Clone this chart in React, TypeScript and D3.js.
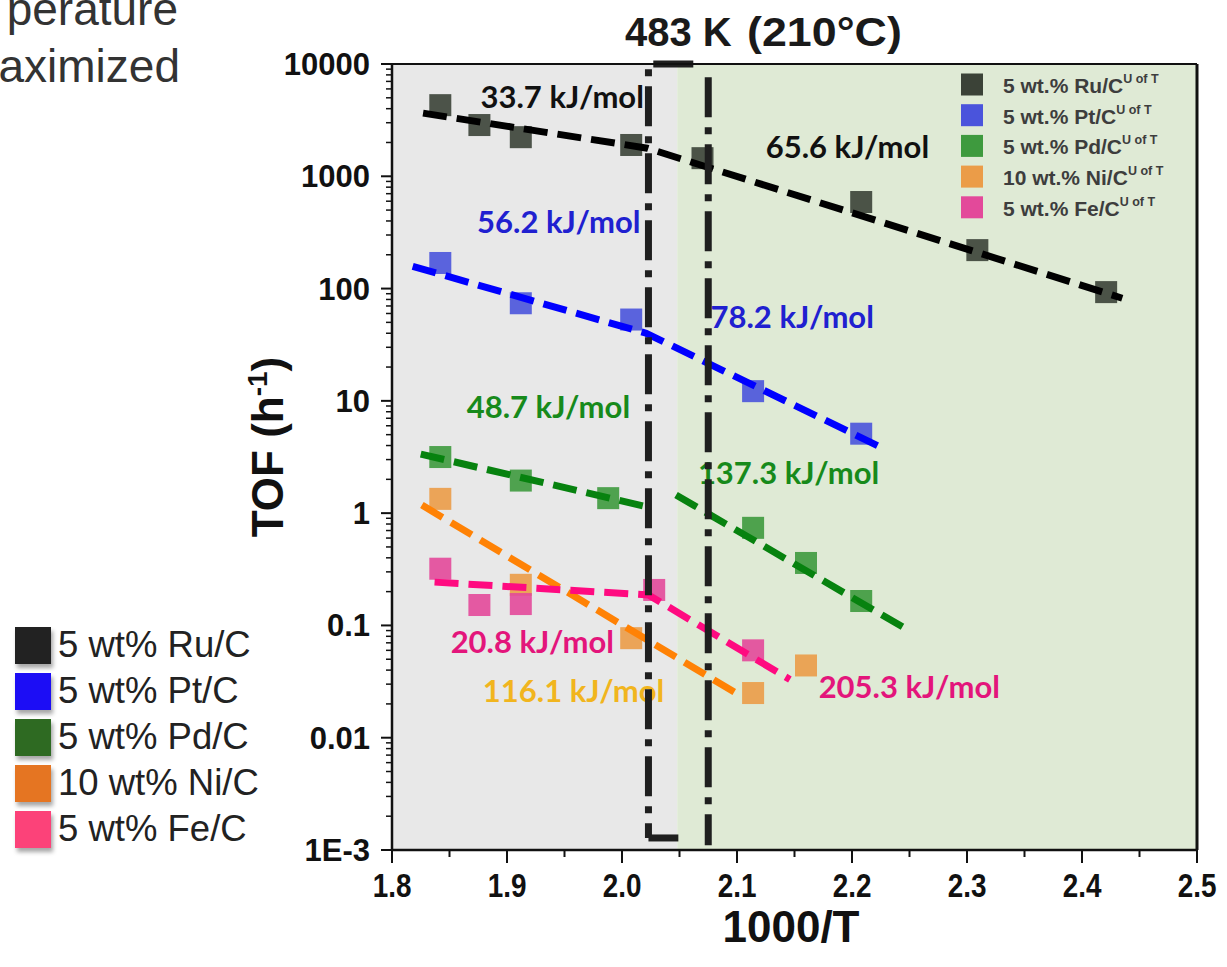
import React from 'react';
import * as d3 from 'd3';

// ---------- data ----------
const xTickValues = [1.8, 1.9, 2.0, 2.1, 2.2, 2.3, 2.4, 2.5];
const xTickLabels = ['1.8', '1.9', '2.0', '2.1', '2.2', '2.3', '2.4', '2.5'];
const yTickValues = [1e-3, 1e-2, 0.1, 1, 10, 100, 1000, 10000];
const yTickLabels = ['1E-3', '0.01', '0.1', '1', '10', '100', '1000', '10000'];

const seriesNames = ['5 wt.% Ru/C', '5 wt.% Pt/C', '5 wt.% Pd/C', '10 wt.% Ni/C', '5 wt.% Fe/C'];
const outerLegendNames = ['5 wt% Ru/C', '5 wt% Pt/C', '5 wt% Pd/C', '10 wt% Ni/C', '5 wt% Fe/C'];

const ruX = [1.842, 1.876, 1.912, 2.008, 2.070, 2.208, 2.309, 2.421];
const ruY = [4300, 2860, 2230, 1900, 1450, 590, 220, 93];
const ptX = [1.842, 1.912, 2.008, 2.114, 2.208];
const ptY = [169, 74, 53, 12.2, 5.1];
const pdX = [1.842, 1.912, 1.988, 2.114, 2.160, 2.208];
const pdY = [3.16, 1.95, 1.36, 0.74, 0.36, 0.165];
const niX = [1.842, 1.912, 2.008, 2.114, 2.160];
const niY = [1.34, 0.23, 0.077, 0.025, 0.044];
const feX = [1.842, 1.876, 1.912, 2.028, 2.114];
const feY = [0.32, 0.152, 0.155, 0.207, 0.060];

// Arrhenius fit lines (each is a list of segments; each segment is x-list & y-list)
const ruFitX = [[1.827, 2.022, 2.435]];
const ruFitY = [[3650, 1780, 82]];
const ptFitX = [[1.818, 2.021, 2.223]];
const ptFitY = [[158, 40, 3.96]];
const pdFitX = [[1.825, 2.023], [2.047, 2.244]];
const pdFitY = [[3.36, 1.13], [1.45, 0.097]];
const niFitX = [[1.826, 2.102]];
const niFitY = [[1.18, 0.024]];
const feFitX = [[1.837, 2.023, 2.146]];
const feFitY = [[0.243, 0.187, 0.033]];

const eaTexts = ['33.7 kJ/mol', '65.6 kJ/mol', '56.2 kJ/mol', '78.2 kJ/mol', '48.7 kJ/mol', '137.3 kJ/mol', '20.8 kJ/mol', '116.1 kJ/mol', '205.3 kJ/mol'];
const eaX = [1.877, 2.125, 1.874, 2.077, 1.865, 2.066, 1.851, 1.879, 2.171];
const eaY = [4050, 1450, 312, 44.5, 7.03, 1.82, 0.0568, 0.0208, 0.0226];

// regions
const greyRegion = [1.8, 2.048];
const greenRegion = [2.048, 2.5];
const boxX = [2.023, 2.075];

// ---------- styles ----------
const ARIAL = 'Liberation Sans, Arial, Helvetica, sans-serif';
const LATO = 'Lato, Carlito, Calibri, sans-serif';
const markerColors = ['#3b4237', '#4a54dc', '#3e9a3e', '#eb9c48', '#e3499a'];
const lineColors = ['#000000', '#0000ff', '#07820f', '#ff8205', '#ff0a80'];
const eaColors = ['#111111', '#111111', '#2020d0', '#2020d0', '#178a1b', '#178a1b', '#e3157b', '#f1b51e', '#e3157b'];
const outerColors = ['#222222', '#1a0df5', '#2d6a22', '#e57524', '#fc4379'];

export default function App() {
  const W = 1227, H = 967;
  const left = 392, right = 1197, top = 64, bottom = 850;
  const x = d3.scaleLinear().domain([1.8, 2.5]).range([left, right]);
  const y = d3.scaleLog().domain([1e-3, 1e4]).range([bottom, top]);

  const seriesX = [ruX, ptX, pdX, niX, feX];
  const seriesY = [ruY, ptY, pdY, niY, feY];
  const fitX = [ruFitX, ptFitX, pdFitX, niFitX, feFitX];
  const fitY = [ruFitY, ptFitY, pdFitY, niFitY, feFitY];

  const line = d3.line<[number, number]>().x(d => x(d[0])).y(d => y(d[1]));

  const minorY: number[] = [];
  for (let e = -3; e < 4; e++) for (let k = 2; k <= 9; k++) minorY.push(k * Math.pow(10, e));
  const minorX = d3.range(0, 7).map(i => 1.85 + i * 0.1);

  const ms = 22;

  const bx0 = x(boxX[0]), bx1 = x(boxX[1]);
  const boxBottom = y(1.28e-3);

  return (
    <svg width={W} height={H} style={{ position: 'absolute', left: 0, top: 0, background: '#fff' }}>
      <defs>
        <filter id="sh" x="-30%" y="-30%" width="160%" height="170%">
          <feDropShadow dx="2" dy="4" stdDeviation="2" floodColor="#000" floodOpacity="0.35" />
        </filter>
      </defs>

      {/* top-left cropped text */}
      <text x={178} y={25} textAnchor="end" fontFamily={ARIAL} fontSize={46} fill="#333">perature</text>
      <text x={180} y={82} textAnchor="end" fontFamily={ARIAL} fontSize={46} fill="#333">aximized</text>

      {/* plot backgrounds */}
      <rect x={x(greyRegion[0])} y={top} width={x(greyRegion[1]) - x(greyRegion[0])} height={bottom - top} fill="#e8e8e8" />
      <rect x={x(greenRegion[0])} y={top} width={x(greenRegion[1]) - x(greenRegion[0])} height={bottom - top} fill="#dfead5" />

      {/* inner legend */}
      {seriesNames.map((n, i) => {
        const cy = 84.5 + i * 30.7;
        return (
          <g key={n}>
            <rect x={961} y={cy - 11} width={22} height={22} fill={markerColors[i]} />
            <text x={1003} y={cy + 8.5} fontFamily={ARIAL} fontWeight="bold" fontSize={21} fill="#3d3d3d">
              {n}
              <tspan fontSize={12.5} dy={-10}>U of T</tspan>
            </text>
          </g>
        );
      })}

      {/* markers */}
      {seriesX.map((xs, si) => (
        <g key={'m' + si}>
          {xs.map((xv, j) => (
            <rect key={j} x={x(xv) - ms / 2} y={y(seriesY[si][j]) - ms / 2} width={ms} height={ms} fill={markerColors[si]} opacity={0.9} />
          ))}
        </g>
      ))}

      {/* fit lines */}
      {fitX.map((segs, si) => (
        <g key={'f' + si}>
          {segs.map((sx, k) => (
            <path key={k} d={line(sx.map((v, j) => [v, fitY[si][k][j]] as [number, number])) || ''}
              fill="none" stroke={lineColors[si]} strokeWidth={7} strokeDasharray="24 10" />
          ))}
        </g>
      ))}

      {/* activation energy labels */}
      {eaTexts.map((t, i) => (
        <text key={t} x={x(eaX[i])} y={y(eaY[i])} fontFamily={LATO} fontWeight="bold" fontSize={31} fill={eaColors[i]}>{t}</text>
      ))}

      {/* 483 K dashed box */}
      <path d={`M${x(2.062)},${top} H${bx0} V${boxBottom}`} fill="none" stroke="#1f1f1f" strokeWidth={7} strokeDasharray="40 10 7 10" />
      <path d={`M${bx0},${boxBottom} H${x(2.049)}`} fill="none" stroke="#1f1f1f" strokeWidth={7} />
      <path d={`M${bx1},${y(7640)} V${y(1.1e-3)}`} fill="none" stroke="#1f1f1f" strokeWidth={7} strokeDasharray="40 10 7 10" />

      {/* frame */}
      <line x1={left} x2={right} y1={top} y2={top} stroke="#111" strokeWidth={2} />
      <line x1={right} x2={right} y1={top} y2={bottom} stroke="#111" strokeWidth={3} />
      <line x1={left} x2={right} y1={bottom} y2={bottom} stroke="#111" strokeWidth={2.5} />
      <line x1={left} x2={left} y1={top} y2={bottom} stroke="#111" strokeWidth={2.5} />

      {/* y ticks */}
      {minorY.map((v, i) => (
        <line key={'my' + i} x1={left - 6} x2={left} y1={y(v)} y2={y(v)} stroke="#111" strokeWidth={1.5} />
      ))}
      {yTickValues.map((v, i) => (
        <g key={'y' + i}>
          <line x1={left - 11} x2={left} y1={y(v)} y2={y(v)} stroke="#111" strokeWidth={2} />
          <text x={370} y={y(v) + 11} textAnchor="end" fontFamily={ARIAL} fontWeight="bold" fontSize={31} fill="#111">{yTickLabels[i]}</text>
        </g>
      ))}

      {/* x ticks */}
      {minorX.map((v, i) => (
        <line key={'mx' + i} x1={x(v)} x2={x(v)} y1={bottom} y2={bottom + 7} stroke="#111" strokeWidth={2} />
      ))}
      {xTickValues.map((v, i) => (
        <g key={'x' + i}>
          <line x1={x(v)} x2={x(v)} y1={bottom} y2={bottom + 13} stroke="#111" strokeWidth={2} />
          <text transform={`translate(${x(v)},${897}) scale(0.82,1)`} textAnchor="middle" fontFamily={ARIAL} fontWeight="bold" fontSize={34} fill="#111">{xTickLabels[i]}</text>
        </g>
      ))}

      {/* axis titles */}
      <text x={791} y={942} textAnchor="middle" fontFamily={ARIAL} fontWeight="bold" fontSize={44} fill="#111">1000/T</text>
      <text transform={`translate(283,447) rotate(-90)`} textAnchor="middle" fontFamily={ARIAL} fontWeight="bold" fontSize={44} fill="#111">
        TOF (h<tspan fontSize={28} dy={-16}>-1</tspan><tspan dy={16}>)</tspan>
      </text>

      {/* top title */}
      <text x={625} y={46} fontFamily={ARIAL} fontWeight="bold" fontSize={40} fill="#1a1a1a">483 K</text>
      <text transform={`translate(747,46) scale(1.12,1)`} fontFamily={ARIAL} fontWeight="bold" fontSize={40} fill="#1a1a1a">(210°C)</text>

      {/* outer legend */}
      {outerLegendNames.map((n, i) => {
        const ty = 627 + i * 46;
        return (
          <g key={n}>
            <rect x={15} y={ty} width={36} height={37} fill={outerColors[i]} filter="url(#sh)" />
            <text x={58} y={ty + 30} fontFamily={ARIAL} fontSize={36.5} fill="#222">{n}</text>
          </g>
        );
      })}
    </svg>
  );
}
